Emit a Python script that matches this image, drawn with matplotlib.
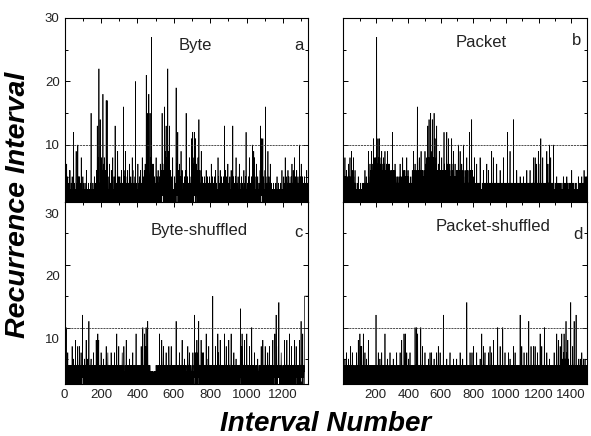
import numpy as np
import matplotlib
matplotlib.use('Agg')
import matplotlib.pyplot as plt
from matplotlib.transforms import ScaledTranslation
from matplotlib.ticker import MultipleLocator

plt.rcParams['font.family'] = ['Liberation Sans', 'DejaVu Sans']

# recurrence intervals, one char per interval (base 36: a=10 ... r=27)
byte_rows = [
    "21c2193124 1372131251 2131421612 6123121413 1251312132 c132141231 2135921312 412a132151 3152131214 1281321231",
    "2513121421 3121321241 6213121312 1412132121 312412f131 2131214123 1213512131 2413126132 d21431825m 314216e217",
    "2513821426 1i25137214 821531624h 3172h14213 1213512713 2141231612 1312481213 21513121d2 1612314212 3192141251",
    "2131521412 1316212131 4121g21351 2161391241 3121512613 1241213712 1312514121 3182136121 2413121512 k131241312",
    "1217213141 2151321261 3124121821 1351241362 142715362l 3814f52193 712i531246 f1628415r1 2513724172 1312512413",
    "2148121351 3121612412 1513127124 126314f253 724163218g 31259417d1 5184213m17 213916d152 4136215213 1241821312",
    "1312512142 316j427315 28c3526134 1271315214 9213126121 3124121315 12142631f4 2613125131 2413128121 41312512b3",
    "2614c37251 3825c42613 b253724162 14283152e3 2513612412 1921315213 1241213125 1312141261 2131512131 4121321512",
    "1312417213 1251312141 2131251312 6121413121 3218125131 2141261312 1512131412 312151241d 2131612141 2513121713",
    "1241312151 2131261213 1421d21513 2131412135 1281312412 1315121312 7121413121 3151213142 1213161213 1412513c21",
    "3121412131 2513181213 1241312512 136a251429 2413825131 2131471213 1512131241 213162d315 24b362517b 3521412131",
    "2613g25131 2141312912 1315121412 7121314121 3121312141 2131213121 4121312512 1312141213 1213121412 3121613121",
    "2131512131 4182131512 1312412613 1251312141 2131512137 1241316121 3128141215 1213161241 2151312141 a131251213",
    "7124131512 1312412151 3121412131 6214131",
]

packet_rows = [
    "3142513214 8213512413 6124135214 2713512413 5821431521 3914261312 4182513124 1362141231 2131241213 1251312131",
    "2131213412 1312131214 1213124121 3126131241 2513124131 2413925132 1425713261 3521936241 51724b1628 4213518162",
    "51826r1273 162b172183 1b26182517 2136149152 1631728146 1351729153 1624172153 1925162173 1537142162 1324162143",
    "143c152162 1534126172 1421521324 1351241241 3151421317 1421521413 1524181261 3152146131 4135126141 8153142161",
    "2151324123 1421351231 4132613141 3915143161 4715316213 15361g4153 1641527815 2614251791 4162514261 2451316213",
    "5194162174 162813715d 1736185e16 2715816f41 7816491e57 16381751f3 1482b13716 3157d16312 6142517213 9153162152",
    "1624182136 143152614c 1571461521 361451c213 714316b135 1631471521 351641b312 6142173914 1524136712 5134162154",
    "1526142a15 2163152491 5162143173 14513612a1 5214132163 1524163128 1521361421 34161c4153 162415271e 1536142153",
    "1433128132 4132134141 7143132142 1324132143 1831423132 1331421331 2614313214 1324133142 1372133142 3163124133",
    "1421331421 3194132143 1438134124 1321431421 4137213314 1321431321 3142613312 4132134132 1431821331 4213314213",
    "133142143c 1423134142 1331492133 1424133142 133142e133 1421331421 3314216314 2133142133 1421331521 4313214312",
    "1421331531 4213314213 3142133162 1431321431 2314312361 3413214313 2144313218 1431324148 2133147133 1424133149",
    "2413313412 7133b21341 3214348132 1431331421 3314214313 4914231371 4413231a41 3314481331 4241331421 33a1441331",
    "2131421312 1351213124 1213124121 3124121312 1312412131 2135124131 2412131241 3121521312 4131213142 4123121413",
    "1231621314 2131241312 1312142131 2413121312 1321451213 1241312141 3121345121 4131214132 6124131512 1413215123",
]

byte_shuf_rows = [
    "314271323a 1423134261 3314213421 4213314241 3172413315 2413421431 8241331424 1347213314 2371342143 162413324c",
    "2413314241 5231442138 1423134251 3414b21331 4241345124 1331424136 2143132413 3142831421 4319241481 3321431324",
    "1631423134 2143512431 4213314247 1332413461 4213314231 3413216314 2313413214 3132461331 4213314921 3314241371",
    "4231341321 3413214631 3241317421 3314213348 1332143132 4133214531 2413312413 3214361324 1332143132 4139213413",
    "2314313241 3321431324 1733144213 a241433149 34134271a3 3143421b31 4213214123 4121312132 1213132121 2312131213",
    "1214213124 1321331421 4391324314 2313841324 1347241331 4231341462 1334123314 2417313241 3314247133 2143132413",
    "3142341324 133b241431 4231341321 3624133142 3134248143 1324133215 3142313412 3314421731 4231346213 3142313421",
    "3314261332 1443c25146 2313462814 3516247b31 4423134241 8241336142 1336421334 1423134291 4351424133 1472313424",
    "1332414313 2413f23143 1424133417 2413342143 3192461332 1443182314 3314241331 4241334219 3314421374 1424133241",
    "4183321442 1334492143 3142413314 6241331423 1352413421 4313241332 144313d244 3137294143 2314423381 4241332414",
    "3923144231 3241437142 41332414a3 1324143231 4216331423 1331424134 2513421331 4241332413 7142331428 3132414324",
    "1372413421 4331246143 1324471332 4143231431 3244813324 1433294143 32c4143324 1433724e34 2413342413 6314231342",
    "1334241383 1442331424 3813424313 2441392341 3342417332 4143324413 3248143324 1473324143 3241433241 833244133b",
    "4243314492 33424133ff ffffffffff ffffffffff",
]

packet_shuf_rows = [
    "2413124131 5214312413 6132413124 1521431241 3142173142 1431241631 4213412313 2413132143 1462313423 1382413314",
    "3392414372 3147341423 3429413324 1336241332 4135214312 4133821431 2413312431 4213314213 1423134124 3132413241",
    "2c31423134 1332461342 1423153142 3134216314 2143132413 4123319241 3314213412 4531421331 2413312613 4213314213",
    "1423142513 4213314213 3134214361 3412313412 4133214236 1342313428 3132414314 2319424133 4923143142 6314231341",
    "5214312413 6241331241 3321431324 1342313424 1a33244133 2a41433924 1334241332 414323a143 1324437142 3134241331",
    "4261332413 3124313241 3425134213 2416314231 3426133142 1334214351 4213314233 1423631423 3142733142 3134261332",
    "4133214313 24133c2413 3214313241 3421335142 1342313421 4231346213 3142313241 3412331524 1332413421 4231342513",
    "1423314213 3241332164 1332413421 3314521342 1433124133 214313241e 3132413324 1342314316 2413321431 3624133241",
    "7241332413 3134213314 6214331243 1324133214 3514231324 1933244133 2741331442 4613324133 1423314231 3362413314",
    "2471332441 3362413324 1428331423 3142313421 331424133a 2413342413 3143723143 1324313241 a331424133 2413623143",
    "1324133241 3423163142 3134251342 1423314213 3241337241 3314236132 4133241332 1423314213 3142313c24 1334241731",
    "4231342133 1624133142 3134231362 4133241323 b241331423 1342713324 1324314247 1332441337 2413314241 3326413324",
    "1334241433 9231434132 7143324143 132434a142 3314231341 2631423134 1324132513 2413214213 1421312413 2143126133",
    "2413342413 3194213143 2483142134 1337241413 4249315124 3146212931 241352134b 3124163142 8314251314 31421436e2",
    "4133124153 723144315b 3424133241 4c23134213 2413352413 1423135241 3413216314 2313425134 1423135241 3421331421",
]

titles = ["Byte", "Packet", "Byte-shuffled", "Packet-shuffled"]
letters = ["a", "b", "c", "d"]
threshold = 10
left_xticks = [0, 200, 400, 600, 800, 1000, 1200]
right_xticks = [200, 400, 600, 800, 1000, 1200, 1400]
yticks = [10, 20, 30]


def decode(rows):
    return np.array([int(c, 36) for c in "".join("".join(rows).split())])


series = [decode(byte_rows), decode(packet_rows),
          decode(byte_shuf_rows), decode(packet_shuf_rows)]

fig = plt.figure(figsize=(5.91, 4.36), dpi=100)
W, H = 591.0, 436.0
# panel boxes in pixels: left, top, right, bottom
boxes = [(64.5, 18, 308, 202), (343, 18, 587, 202),
         (64.5, 202, 308, 384), (343, 202, 587, 384)]
xlims = [(0, 1337), (-2, 1498), (0, 1337), (-2, 1498)]
title_pos = [(0.536, 0.853), (0.566, 0.865), (0.552, 0.842), (0.615, 0.868)]
letter_pos = [(0.962, 0.853), (0.956, 0.878), (0.962, 0.835), (0.962, 0.822)]

axes = []
for i, (l, t, r, b) in enumerate(boxes):
    ax = fig.add_axes([l / W, 1 - b / H, (r - l) / W, (b - t) / H])
    y = series[i]
    x = np.arange(len(y))
    ax.plot(x, y, color='black', lw=0.5, solid_joinstyle='miter')
    ax.axhline(threshold, color='#333333', lw=0.6, ls=(0, (2.5, 1)))
    ax.set_xlim(*xlims[i])
    ax.set_ylim(1, 30)
    ax.set_yticks(yticks)
    ax.yaxis.set_minor_locator(MultipleLocator(5))
    ax.xaxis.set_minor_locator(MultipleLocator(100))
    if i % 2 == 0:
        ax.set_xticks(left_xticks)
    else:
        ax.set_xticks(right_xticks)
    ax.tick_params(which='both', direction='in', top=True, right=True,
                   labelsize=9.5, labelcolor='#222222', width=0.7)
    ax.tick_params(which='major', length=3.5)
    ax.tick_params(which='minor', length=2)
    if i < 2:
        ax.tick_params(labelbottom=False)
    if i % 2 == 1:
        ax.tick_params(labelleft=False)
    for sp in ax.spines.values():
        sp.set_linewidth(0.8)
    ax.text(*title_pos[i], titles[i], transform=ax.transAxes, ha='center',
            va='center', fontsize=12, color='#222222')
    ax.text(*letter_pos[i], letters[i], transform=ax.transAxes, ha='center',
            va='center', fontsize=12, color='#222222')
    axes.append(ax)

# the lower left panel has its y labels sitting a bit low in the original
shift = ScaledTranslation(0, -11 / 100, fig.dpi_scale_trans)
for tk in axes[2].yaxis.get_major_ticks():
    tk.label1.set_transform(tk.label1.get_transform() + shift)

fig.text(18 / W, 1 - 205 / H, 'Recurrence Interval', rotation=90, ha='center',
         va='center', fontsize=20.5, fontweight='bold', fontstyle='italic')
fig.text(326 / W, 1 - 424 / H, 'Interval Number', ha='center', va='center',
         fontsize=20, fontweight='bold', fontstyle='italic')

fig.savefig('out.png', dpi=100)
